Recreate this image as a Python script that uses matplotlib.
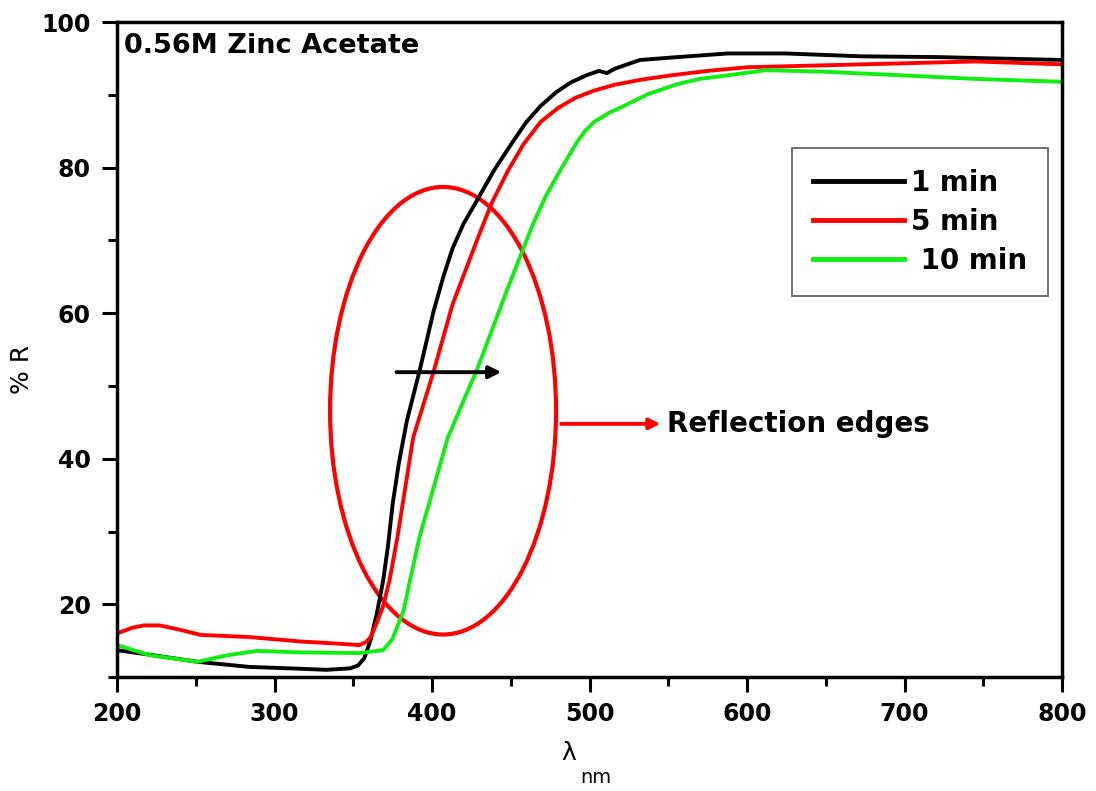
import matplotlib
matplotlib.use("Agg")
import matplotlib.pyplot as plt
from matplotlib.patches import Ellipse
from matplotlib.ticker import MultipleLocator

plt.rcParams["font.family"] = ["DejaVu Sans"]

# Reflectance spectra, 0.56M zinc acetate films (deposition time)
lam_1 = [200, 220, 251, 284, 310, 333, 348, 353, 357, 361, 365, 369, 372, 375,
         379, 384, 392, 401, 407, 413, 420, 428, 434, 439, 445, 452, 460, 469,
         479, 488, 498, 506, 511, 516, 532, 556, 588, 624, 673, 721, 760, 800]
r_1 = [13.7, 13.1, 12.1, 11.4, 11.2, 11.0, 11.2, 11.6, 12.6, 15.1, 18.8, 23.3,
       28.0, 33.8, 39.5, 45.2, 52.0, 60.3, 64.9, 68.9, 72.3, 75.3, 77.6, 79.5,
       81.5, 83.8, 86.3, 88.5, 90.4, 91.7, 92.7, 93.3, 93.0, 93.6, 94.8, 95.2,
       95.7, 95.7, 95.3, 95.2, 95.0, 94.8]

lam_5 = [200, 210, 217, 227, 240, 253, 284, 316, 340, 354, 358, 361, 365, 369,
         373, 378, 388, 401, 413, 429, 438, 448, 458, 469, 480, 491, 503, 516,
         533, 552, 575, 600, 673, 745, 800]
r_5 = [16.0, 16.8, 17.1, 17.1, 16.5, 15.8, 15.5, 14.9, 14.6, 14.4, 14.8, 15.5,
       17.5, 19.8, 23.3, 29.2, 42.9, 52.0, 61.2, 70.3, 75.2, 79.5, 83.2, 86.3,
       88.2, 89.6, 90.6, 91.4, 92.1, 92.7, 93.3, 93.8, 94.2, 94.6, 94.2]

lam_10 = [200, 221, 251, 270, 289, 316, 354, 369, 375, 382, 386, 392, 410, 429,
          448, 464, 472, 481, 492, 497, 503, 512, 523, 537, 556, 570, 588, 612,
          648, 697, 745, 800]
r_10 = [14.4, 13.0, 12.1, 13.0, 13.6, 13.4, 13.3, 13.7, 15.3, 19.2, 23.3, 29.2,
        42.9, 52.5, 63.4, 72.2, 76.0, 79.5, 83.5, 85.0, 86.3, 87.5, 88.6, 90.1,
        91.5, 92.2, 92.7, 93.4, 93.2, 92.7, 92.2, 91.8]

labels = ["1 min", "5 min", " 10 min"]
colors = ["black", "#ff0000", "#11ee11"]

fig = plt.figure(figsize=(10.96, 7.91), dpi=100)
ax = fig.add_axes([0.1068, 0.144, 0.8622, 0.828])

for lam, r, lab, c in zip([lam_1, lam_5, lam_10], [r_1, r_5, r_10], labels, colors):
    ax.plot(lam, r, color=c, lw=2.8, label=lab, solid_joinstyle="round")

ax.set_xlim(200, 800)
ax.set_ylim(10, 100)
ax.xaxis.set_major_locator(MultipleLocator(100))
ax.xaxis.set_minor_locator(MultipleLocator(50))
ax.yaxis.set_major_locator(MultipleLocator(20))
ax.set_yticks([10, 30, 50, 70, 90], minor=True)

for s in ax.spines.values():
    s.set_linewidth(2.5)
ax.tick_params(which="both", direction="out", top=False, right=False, width=2.2)
ax.tick_params(which="major", length=11, labelsize=17)
ax.tick_params(which="minor", length=6.5)
ax.tick_params(axis="x", which="major", pad=7)
ax.tick_params(axis="y", which="major", pad=8)
for t in ax.get_xticklabels() + ax.get_yticklabels():
    t.set_fontweight("bold")

ax.set_ylabel("% R", fontsize=18, va="center")
ax.yaxis.set_label_coords(-0.1005, 0.47)
ax.set_xlabel("λ", fontsize=18, va="center")
ax.xaxis.set_label_coords(0.478, -0.116)
ax.text(0.507, -0.154, "nm", transform=ax.transAxes, fontsize=14,
        ha="center", va="center")

ax.text(0.007, 0.963, "0.56M Zinc Acetate", transform=ax.transAxes,
        fontsize=19.5, fontweight="bold", ha="left", va="center")

leg = ax.legend(loc="upper left", bbox_to_anchor=(0.714, 0.808), borderaxespad=0,
                prop={"size": 20, "weight": "bold"}, handlelength=3.3,
                handletextpad=0.25, labelspacing=0.4, borderpad=0.75,
                fancybox=False, edgecolor="#666666", framealpha=1)
leg.get_frame().set_linewidth(1.3)
for h in leg.get_lines():
    h.set_linewidth(3.5)

# edge region marker and shift arrow
ax.add_patch(Ellipse((407, 46.6), width=143.5, height=61.5, fill=False,
                     edgecolor="#ff0000", lw=3))
ax.annotate("", xy=(444, 51.9), xytext=(377.5, 51.9),
            arrowprops=dict(arrowstyle="-|>", color="black", lw=2.8,
                            mutation_scale=18, shrinkA=0, shrinkB=0))
ax.annotate("", xy=(545, 44.8), xytext=(482, 44.8),
            arrowprops=dict(arrowstyle="-|>", color="#ff0000", lw=2.8,
                            mutation_scale=16, shrinkA=0, shrinkB=0))
ax.text(549, 44.8, "Reflection edges", fontsize=20, fontweight="bold",
        ha="left", va="center")

fig.savefig("out.png", dpi=100)
